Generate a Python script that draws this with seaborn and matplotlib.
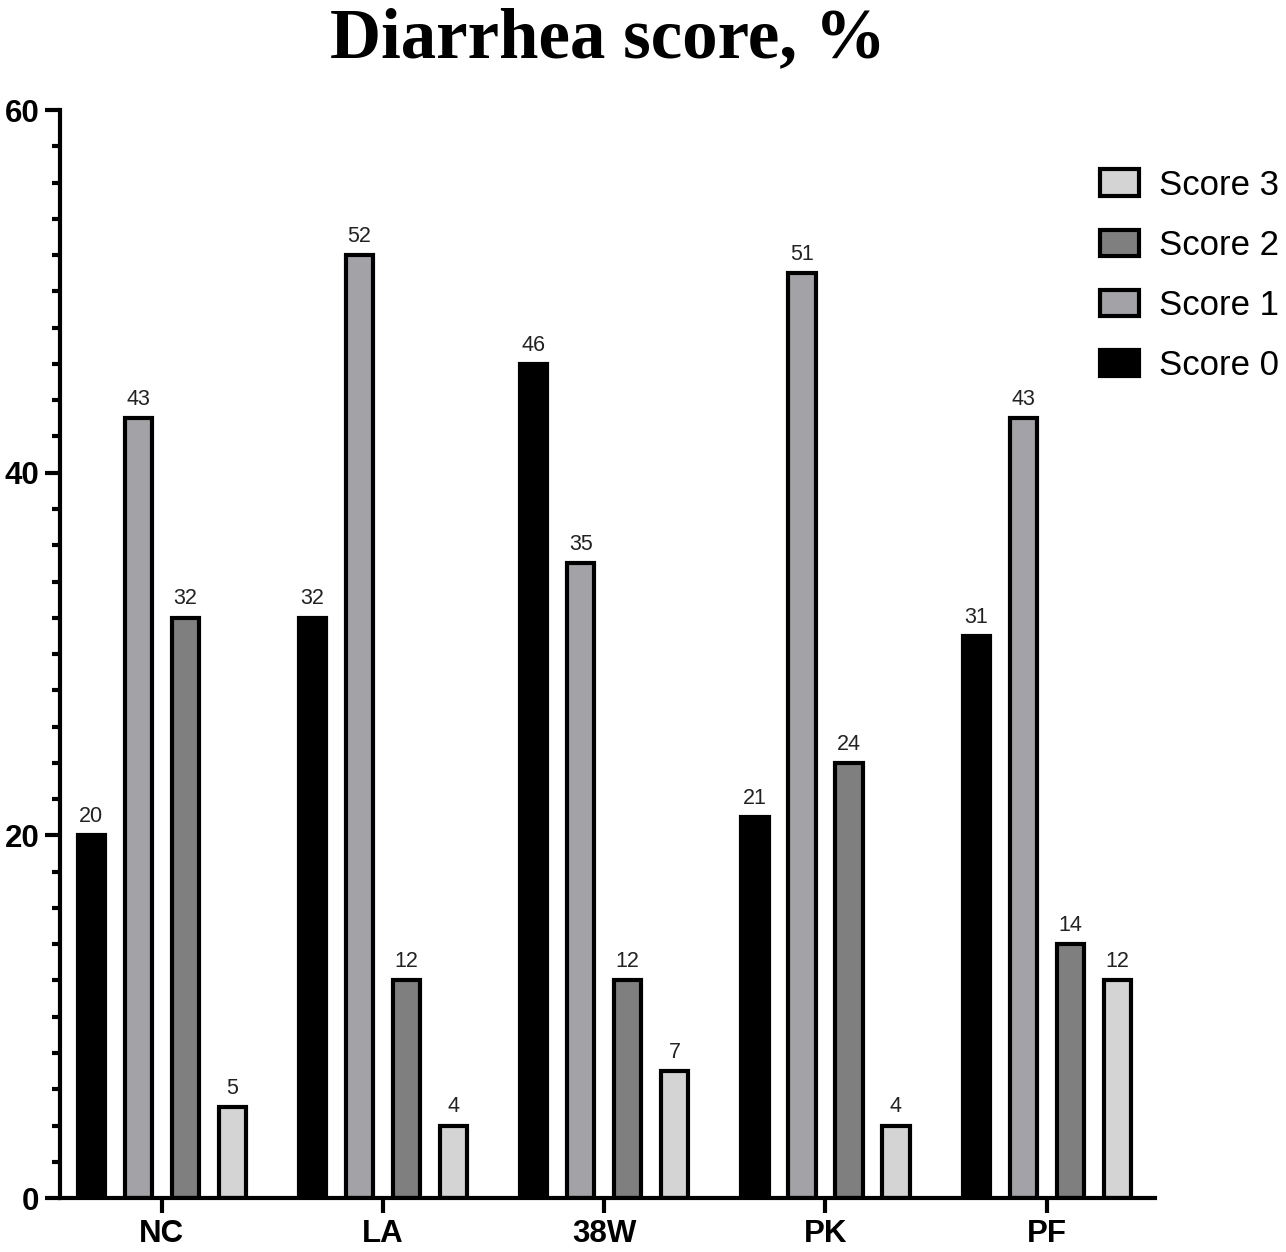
import pandas as pd
import matplotlib.pyplot as plt
import seaborn as sns
from matplotlib.ticker import MultipleLocator

# Dados do grafico
groups = ['NC', 'LA', '38W', 'PK', 'PF']
score_0 = [20, 32, 46, 21, 31]
score_1 = [43, 52, 35, 51, 43]
score_2 = [32, 12, 12, 24, 14]
score_3 = [5, 4, 7, 4, 12]
score_names = ['Score 0', 'Score 1', 'Score 2', 'Score 3']
colors = ['#000000', '#a2a2a7', '#7f7f7f', '#d4d4d4']

df = pd.DataFrame({
    'group': groups * 4,
    'score': [s for s in score_names for _ in groups],
    'value': score_0 + score_1 + score_2 + score_3,
})

sns.set_style('ticks')
plt.rcParams['font.family'] = ['Liberation Sans', 'DejaVu Sans']
plt.rcParams['text.color'] = 'black'
plt.rcParams['xtick.color'] = 'black'
plt.rcParams['ytick.color'] = 'black'
plt.rcParams['axes.edgecolor'] = 'black'

fig = plt.figure(figsize=(12.86, 12.52), dpi=100)
ax = fig.add_axes([0.0467, 0.0431, 0.8515, 0.869])

sns.barplot(data=df, x='group', y='value', hue='score', order=groups,
            hue_order=score_names, palette=colors, width=0.85, gap=0.42,
            edgecolor='black', linewidth=3, saturation=1, errorbar=None, ax=ax)

# rotulos das barras
for c in ax.containers:
    ax.bar_label(c, labels=[f'{v:.0f}' for v in c.datavalues], padding=6,
                 fontsize=15.5, color='#222222')

ax.set_ylim(0, 60)
ax.set_xlim(-0.46, 4.49)
ax.yaxis.set_major_locator(MultipleLocator(20))
ax.yaxis.set_minor_locator(MultipleLocator(2))
ax.set_xlabel('')
ax.set_ylabel('')
sns.despine(ax=ax)
for s in ['left', 'bottom']:
    ax.spines[s].set_linewidth(3)
ax.tick_params(axis='both', which='major', length=11, width=3, labelsize=22.5, pad=4)
ax.tick_params(axis='y', which='minor', length=6, width=3)
for lab in ax.get_xticklabels() + ax.get_yticklabels():
    lab.set_fontweight('bold')

ax.set_title('Diarrhea score, %', family='Liberation Serif', fontweight='bold',
             fontsize=51, pad=38, color='black')

# legenda em ordem invertida
handles, labels = ax.get_legend_handles_labels()
ax.legend(handles[::-1], labels[::-1], loc='upper left', bbox_to_anchor=(0.95, 0.946),
          frameon=False, fontsize=25, handlelength=1.1, handleheight=0.8,
          labelspacing=0.78, handletextpad=0.6, borderpad=0, borderaxespad=0)

plt.savefig('out.png', dpi=100)
